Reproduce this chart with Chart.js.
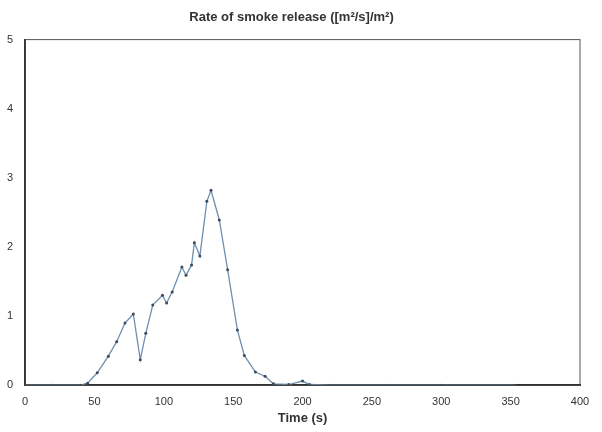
<!DOCTYPE html>
<html>
<head>
<meta charset="utf-8">
<script src="https://cdn.jsdelivr.net/npm/chart.js@4"></script>
<style>
  body { margin: 0; background: #fff; }
  #wrap { width: 602px; height: 432px; }
</style>
</head>
<body>
<div id="wrap"><canvas id="chart"></canvas></div>
<script>
// time (s) and smoke release rate
const times = [0, 20, 40, 45, 52, 60, 66, 72, 78, 83, 87, 92, 99, 102, 106, 113, 116, 120, 122, 126, 131, 134, 140, 146, 153, 158, 166, 173, 179, 190, 200, 205, 220, 260, 300, 353];
const rates = [0, 0, 0, 0.03, 0.18, 0.42, 0.63, 0.9, 1.03, 0.37, 0.75, 1.16, 1.3, 1.19, 1.35, 1.71, 1.59, 1.74, 2.06, 1.87, 2.66, 2.82, 2.39, 1.67, 0.8, 0.43, 0.19, 0.13, 0.02, 0.01, 0.06, 0.01, 0, 0, 0, 0];
const xTicks = [0, 50, 100, 150, 200, 250, 300, 350, 400];

const points = times.map((t, i) => ({ x: t, y: rates[i] }));

new Chart(document.getElementById('chart'), {
  type: 'line',
  data: {
    datasets: [{
      data: points,
      borderColor: '#6f8fb0',
      borderWidth: 1.3,
      pointRadius: 1.5,
      pointBackgroundColor: '#3a4a60',
      pointBorderWidth: 0,
      tension: 0,
      fill: false
    }]
  },
  options: {
    responsive: true,
    maintainAspectRatio: false,
    animation: false,
    layout: { padding: { left: 3, right: 22, top: 4, bottom: 6 } },
    plugins: {
      legend: { display: false },
      tooltip: { enabled: false },
      title: {
        display: true,
        text: 'Rate of smoke release ([m²/s]/m²)',
        color: '#333',
        font: { family: 'Arial, Liberation Sans', size: 13, weight: 'bold' },
        padding: { top: 6, bottom: 14 }
      }
    },
    scales: {
      x: {
        type: 'linear',
        min: 0, max: 400,
        afterBuildTicks: s => { s.ticks = xTicks.map(v => ({ value: v })); },
        grid: { display: false, drawTicks: true },
        border: { color: '#222', width: 2 },
        ticks: { color: '#333', font: { family: 'Arial, Liberation Sans', size: 11 }, padding: 2 },
        title: { display: true, text: 'Time (s)', color: '#333', font: { family: 'Arial, Liberation Sans', size: 13, weight: 'bold' }, padding: 0 }
      },
      y: {
        min: 0, max: 5,
        ticks: { stepSize: 1, color: '#333', font: { family: 'Arial, Liberation Sans', size: 11 }, padding: 4 },
        grid: { display: false },
        border: { color: '#222', width: 2 }
      }
    }
  },
  plugins: [{
    id: 'frame',
    afterDraw(c) {
      const a = c.chartArea, ctx = c.ctx;
      ctx.save();
      ctx.strokeStyle = '#555';
      ctx.lineWidth = 1;
      ctx.strokeRect(a.left, a.top, a.right - a.left, a.bottom - a.top);
      ctx.restore();
    }
  }]
});
</script>
</body>
</html>
